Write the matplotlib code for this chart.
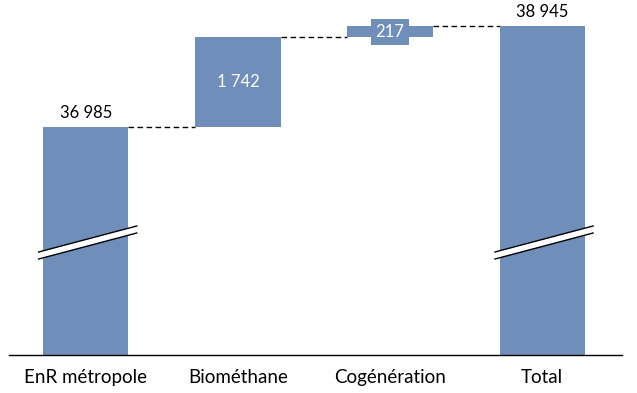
import matplotlib
matplotlib.use("Agg")
import matplotlib.pyplot as plt
import matplotlib.transforms as mtransforms
from matplotlib.patches import Polygon

categories = ["EnR métropole", "Biométhane", "Cogénération", "Total"]
steps = [36985, 1742, 217]
total = 38945
labels = ["36 985", "1 742", "217", "38 945"]

plt.rcParams['font.family'] = ['Lato', 'DejaVu Sans']
color = "#6F8EBA"

W, H = 637, 393
fig = plt.figure(figsize=(W / 100, H / 100), dpi=100)
ax = fig.add_axes([9 / W, (H - 355) / H, (622 - 9) / W, 355 / H])
ymin, ymax = 32560, 39450
ax.set_xlim(-0.505, 3.525)
ax.set_ylim(ymin, ymax)

bw = 0.56
bottoms = [ymin, steps[0], steps[0] + steps[1], ymin]
heights = [steps[0] - ymin, steps[1], steps[2], total - ymin]
tops = [b + h for b, h in zip(bottoms, heights)]
xs = list(range(len(categories)))
ax.bar(xs, heights, bottom=bottoms, width=bw, color=color, zorder=2)

# connectors
for i in range(3):
    ax.plot([xs[i] + bw / 2, xs[i + 1] - bw / 2], [tops[i], tops[i]],
            color="black", lw=1, ls=(0, (4, 2.5)), zorder=1)

nfs = 12
# labels
ax.text(xs[0], tops[0] + 120, labels[0], ha="center", va="bottom", fontsize=nfs, color="black")
ax.text(xs[3], total + 120, labels[3], ha="center", va="bottom", fontsize=nfs, color="black")
ax.text(xs[1], bottoms[1] + heights[1] / 2, labels[1], ha="center", va="center",
        fontsize=nfs, color="white")
ax.text(xs[2], bottoms[2] + heights[2] / 2, labels[2], ha="center", va="center",
        fontsize=nfs, color="white", zorder=5,
        bbox=dict(boxstyle="square,pad=0.3", fc=color, ec="none"))

# break marks
trans = mtransforms.blended_transform_factory(ax.transData, fig.transFigure)
def fy(p):
    return (H - p) / H
for i in (0, 3):
    x0, x1 = xs[i] - 0.31, xs[i] + 0.335
    poly = Polygon([[x0, fy(252)], [x1, fy(226)], [x1, fy(233)], [x0, fy(259)]],
                   closed=True, fc="white", ec="none", transform=trans, zorder=3, clip_on=False)
    ax.add_patch(poly)
    ax.plot([x0, x1], [fy(252), fy(226)], color="black", lw=1, transform=trans, zorder=4, clip_on=False)
    ax.plot([x0, x1], [fy(259), fy(233)], color="black", lw=1, transform=trans, zorder=4, clip_on=False)

for s in ["top", "right", "left"]:
    ax.spines[s].set_visible(False)
ax.spines["bottom"].set_color("black")
ax.spines["bottom"].set_linewidth(1)
ax.set_yticks([])
ax.set_xticks(xs)
ax.set_xticklabels(categories, fontsize=13.5)
ax.tick_params(axis="x", length=0, pad=10)

fig.savefig("out.png", dpi=100)
